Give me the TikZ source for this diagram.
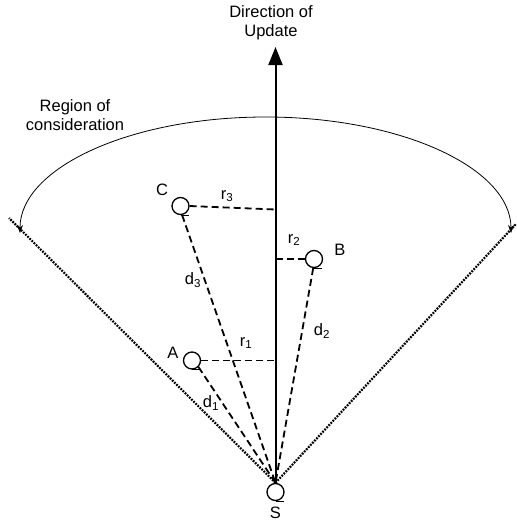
\documentclass[tikz,border=0pt]{standalone}
\usepackage{fontspec}
\setmainfont{Liberation Sans}
\usetikzlibrary{arrows.meta}
\begin{document}
\begin{tikzpicture}[x=1pt,y=-1pt,
  every node/.style={font=\fontsize{16.5}{19}\selectfont},
  pt/.style={circle,draw,line width=1.3pt,minimum size=17pt,inner sep=0pt},
  lbl/.style={inner sep=0pt},
  axisline/.style={line width=2pt,-{Triangle[width=14pt,length=18pt]}},
  dsh/.style={line width=1.8pt,dash pattern=on 7pt off 4pt},
  bound/.style={line width=2.2pt,dash pattern=on 1.8pt off 1.2pt},
  arcline/.style={line width=0.8pt,{Stealth[length=8pt,width=6pt]}-{Stealth[length=8pt,width=6pt]}},
  tick/.style={line width=1.2pt}]
\useasboundingbox (0,0) rectangle (517,523);
% points
\node[pt] (S) at (275.5,492) {};
\node[pt] (C) at (180.5,206) {};
\node[pt] (B) at (314,259) {};
\node[pt] (A) at (192,360.5) {};
\foreach \p in {S,C,B,A} \draw[tick] (\p.south) -- ++(8,0);
% labels
\node[lbl] (Sl) at (275.5,513) {S};
\node[lbl] (Cl) at (162,190) {C};
\node[lbl] (Bl) at (340,250) {B};
\node[lbl] (Al) at (173,353) {A};
\node[lbl] (r3) at (227,196) {r\textsubscript{3}};
\node[lbl] (r2) at (294,240) {r\textsubscript{2}};
\node[lbl] (r1) at (246,343) {r\textsubscript{1}};
\node[lbl] (d1) at (211,403) {d\textsubscript{1}};
\node[lbl] (d3) at (193,280) {d\textsubscript{3}};
\node[lbl] (d2) at (322,331) {d\textsubscript{2}};
\node[lbl,align=center] (dir) at (271,23) {Direction of\\Update};
\node[lbl,align=center] (reg) at (75,115) {Region of\\consideration};
% axis
\coordinate (top) at (275.5,47);
\draw[axisline] (S.north) -- (top);
\coordinate (a3) at (275.5,209.5);
\coordinate (a2) at (275.5,259);
\coordinate (a1) at (275.5,360.5);
\draw[dsh] (C.east) -- (a3);
\draw[dsh] (a2) -- (B.west);
\draw[dsh] (A.east) -- (a1);
\draw[dsh] (C.-80) -- (S.north);
\draw[dsh] (A.-45) -- (S.north);
\draw[dsh] (B.-95) -- (S.north);
% boundaries
\coordinate (L) at (9,218);
\coordinate (R) at (516,224);
\draw[bound] (S.north) -- (L);
\draw[bound] (S.north) -- (R);
% arc
\coordinate (al) at (20,233);
\coordinate (ar) at (511,233);
\draw[arcline] (al) .. controls (20,168) and (130,117) .. (265.5,117)
  .. controls (401,117) and (511,168) .. (ar);
\end{tikzpicture}
\end{document}
